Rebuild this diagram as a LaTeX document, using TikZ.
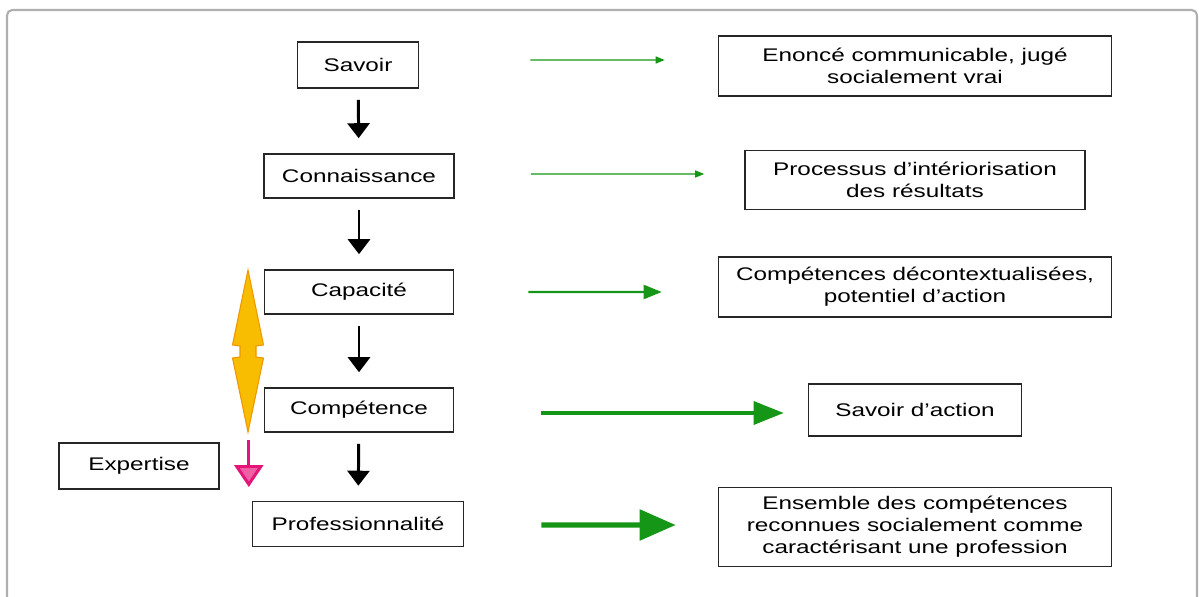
\documentclass[tikz,border=0pt]{standalone}
\usepackage{fontspec}
\setmainfont{Liberation Sans}[FakeStretch=1.33]
\usetikzlibrary{arrows.meta}
\definecolor{basegreen}{RGB}{22,150,22}
\definecolor{baseorange}{RGB}{248,188,0}
\definecolor{darkorange}{RGB}{240,150,0}
\definecolor{basepink}{RGB}{228,20,120}
\definecolor{lightpink}{RGB}{238,95,165}
\definecolor{framegray}{RGB}{175,175,175}

\begin{document}
\begin{tikzpicture}[x=0.02cm, y=-0.02cm, font=\fontsize{10.4}{12.5}\selectfont]
  \tikzset{
    black_box/.style args={#1/#2}{
      draw=black!85, line width=0.9pt, minimum width=#1*0.02cm, minimum height=#2*0.02cm, inner sep=0pt, align=center
    },
    down_arrow/.style={-{Triangle[width=0.44cm,length=0.3cm]}, line width=1.7pt, shorten <=0.22cm, shorten >=0.3cm},
    green_arrow/.style args={#1/#2/#3}{
      -{Triangle[width=#2*0.02cm,length=#3*0.02cm]}, basegreen, line width=#1pt
    }
  }

\useasboundingbox (0,0) rectangle (1199,597);
\draw[framegray, line width=1.2pt, rounded corners=3pt] (7,605) -- (7,10) -- (1197,10) -- (1197,605);

% left column
\node[black_box=121/46] (savoir) at (358,65) {Savoir};
\node[black_box=190/44] (conn) at (359,176) {Connaissance};
\node[black_box=189/44] (cap) at (359,292) {Capacité};
\node[black_box=189/44] (compet) at (359,410) {Compétence};
\node[black_box=211/45] (prof) at (358,524) {Professionnalité};
\node[black_box=160/46] (expertise) at (139,466) {Expertise};

% right column
\node[black_box=393/60] (enonce) at (915,66) {Enoncé communicable, jugé\\socialement vrai};
\node[black_box=340/59] (processus) at (915,180) {Processus d'intériorisation\\des résultats};
\node[black_box=393/60] (decontext) at (915,287) {Compétences décontextualisées,\\potentiel d'action};
\node[black_box=213/52] (savaction) at (915,410) {Savoir d'action};
\node[black_box=393/79] (ensemble) at (915,527) {Ensemble des compétences\\reconnues socialement comme\\caractérisant une profession};

\foreach \a/\b in {savoir/conn, conn/cap, cap/compet, compet/prof} {
  \draw[down_arrow] (\a) -- (\b);
}

% green arrows, getting thicker downwards
\draw[green_arrow=0.7/7/9] ([xshift=2.22cm,yshift=0.1cm]savoir.east) -- ([xshift=-1.06cm,yshift=0.12cm]enonce.west);
\draw[green_arrow=0.7/7/9] ([xshift=1.52cm,yshift=0.04cm]conn.east) -- ([xshift=-0.8cm,yshift=0.12cm]processus.west);
\draw[green_arrow=1.2/14/18] ([xshift=1.48cm]cap.east) -- ([xshift=-1.12cm,yshift=-0.1cm]decontext.west);
\draw[green_arrow=1.9/23/30] ([xshift=1.74cm,yshift=-0.06cm]compet.east) -- ([xshift=-0.48cm,yshift=-0.06cm]savaction.west);
\draw[green_arrow=3/30/36] ([xshift=1.54cm,yshift=-0.02cm]prof.east) -- ([xshift=-0.84cm,yshift=0.04cm]ensemble.west);

% orange double arrow
\filldraw[fill=baseorange, draw=darkorange, line width=0.6pt]
  (248,270) -- (263.5,345) -- (256,346) -- (256,357) -- (263.5,358) -- (248,432)
  -- (232.5,358) -- (240,357) -- (240,346) -- (232.5,345) -- cycle;

\draw[basepink, line width=1.7pt, -{Triangle[width=0.58cm,length=0.44cm,fill=lightpink]}]
  ([xshift=0.58cm,yshift=0.52cm]expertise.east) -- ([xshift=0.58cm,yshift=-0.42cm]expertise.east);

\end{tikzpicture}
\end{document}
